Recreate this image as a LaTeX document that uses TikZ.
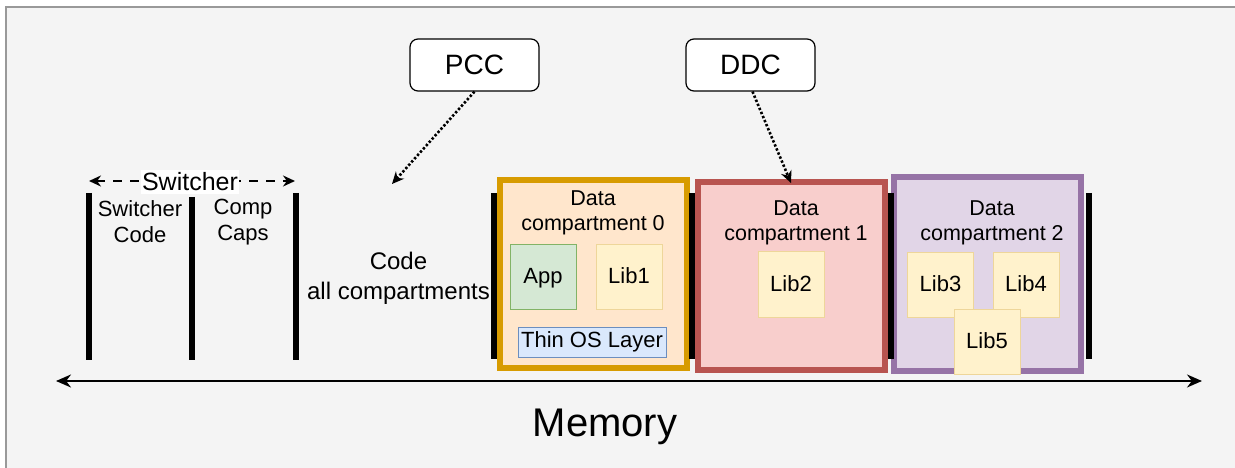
\documentclass[tikz,border=0pt]{standalone}
\usepackage{fontspec}
\setmainfont{Liberation Sans}
\usetikzlibrary{arrows.meta}
\definecolor{bgc}{HTML}{F4F4F4}
\definecolor{frame}{HTML}{999999}
\definecolor{czd}{HTML}{D79B00}
\definecolor{czf}{HTML}{FFE6CC}
\definecolor{cod}{HTML}{B85450}
\definecolor{cof}{HTML}{F8CECC}
\definecolor{ctd}{HTML}{9673A6}
\definecolor{ctf}{HTML}{E1D5E7}
\definecolor{libd}{HTML}{EED69A}
\definecolor{libf}{HTML}{FFF2CC}
\definecolor{appd}{HTML}{82B366}
\definecolor{appf}{HTML}{D5E8D4}
\definecolor{osd}{HTML}{6C8EBF}
\definecolor{osf}{HTML}{DAE8FC}
\tikzset{
  txt/.style={font=\fontsize{22}{26}\selectfont, align=center, inner sep=0pt},
  compbox/.style={line width=6pt, minimum width=187pt, minimum height=188pt, inner sep=0pt},
  innerbox/.style={line width=1pt, minimum width=66pt, minimum height=65pt, inner sep=0pt, font=\fontsize{22}{26}\selectfont},
  libbox/.style={innerbox, draw=libd, fill=libf},
  regbox/.style={draw=black, fill=white, line width=1.2pt, rounded corners=8pt, minimum width=129pt, minimum height=52pt, font=\fontsize{28}{32}\selectfont},
  membar/.style={line width=6pt, black},
  dotarrow/.style={line width=2.6pt, dash pattern=on 2.4pt off 2pt, -{Stealth[length=12pt,width=11pt]}},
}
\begin{document}
\begin{tikzpicture}[x=1pt,y=-1pt]
\useasboundingbox (0,0) rectangle (1235,468);
\fill[white] (0,0) rectangle (1235,468);
\fill[bgc] (6,7) rectangle (1235,468);
\draw[frame, line width=1.2pt] (6,468) -- (6,7) -- (1235,7);

% compartments
\node[compbox, draw=czd, fill=czf] (c0) at (593.5,274) {};
\node[compbox, draw=cod, fill=cof] (c1) at (791,276) {};
\node[compbox, draw=ctd, fill=ctf, minimum height=194pt] (c2) at (987.5,274) {};

\node[txt, font=\fontsize{21.5}{25.5}\selectfont] (t0) at (593,213) {Data\\compartment 0};
\node[txt, font=\fontsize{21.5}{25.5}\selectfont] (t1) at (796,223) {Data\\compartment 1};
\node[txt, font=\fontsize{21.5}{25.5}\selectfont] (t2) at (992,223) {Data\\compartment 2};

\node[innerbox, draw=appd, fill=appf, text depth=1pt] (app) at (543,276.5) {App};
\node[libbox, text depth=1pt] (lib1) at (629,276.5) {Lib1};
\node[innerbox, draw=osd, fill=osf, minimum width=148pt, minimum height=30pt] (os) at (592,342) {Thin OS Layer};
\node[libbox, minimum height=66pt, text depth=1pt] (lib2) at (791,284) {Lib2};
\node[libbox, text depth=1pt] (lib3) at (940.5,284.5) {Lib3};
\node[libbox, text depth=1pt] (lib4) at (1026,284.5) {Lib4};
\node[libbox, text depth=1pt] (lib5) at (987,341.5) {Lib5};

% memory bars
\draw[membar] (89,193) -- (89,360);
\draw[membar] (192,197) -- (192,360);
\draw[membar] (296,193) -- (296,360);
\draw[membar] (494,193) -- (494,359);
\draw[membar] (692,193) -- (692,359);
\draw[membar] (891,193) -- (891,359);
\draw[membar] (1089,193) -- (1089,359);

% left texts
\node[txt] (swcode) at (140,222) {Switcher\\Code};
\node[txt] (caps) at (243,222) {Comp\\Caps};
\node[txt, font=\fontsize{24}{30}\selectfont] (code) at (398.5,278) {Code\\all compartments};

% switcher arrow
\coordinate (sw1) at (89,181);
\coordinate (sw2) at (295,181);
\draw[line width=2.5pt, dash pattern=on 9pt off 8pt, {Stealth[length=12pt,width=11pt]}-{Stealth[length=12pt,width=11pt]}] (sw1) -- (sw2);
\node[txt, font=\fontsize{25}{30}\selectfont, fill=white, inner xsep=1.5pt, inner ysep=3pt] (swl) at (190,182) {Switcher};

% registers
\node[regbox] (pcc) at (474.5,65) {PCC};
\node[regbox] (ddc) at (750.5,65) {DDC};
\coordinate (pccend) at (392,184);
\coordinate (ddcend) at (791,183);
\draw[dotarrow] (pcc.south) -- (pccend);
\draw[dotarrow] ([xshift=2pt]ddc.south) -- (ddcend);

% memory axis
\coordinate (m1) at (56,381);
\coordinate (m2) at (1202,381);
\draw[line width=2pt, {Stealth[length=15pt,width=13pt]}-{Stealth[length=15pt,width=13pt]}] (m1) -- (m2);
\node[font=\fontsize{40}{46}\selectfont, inner sep=0pt] (mem) at (605,427) {Memory};
\end{tikzpicture}
\end{document}
